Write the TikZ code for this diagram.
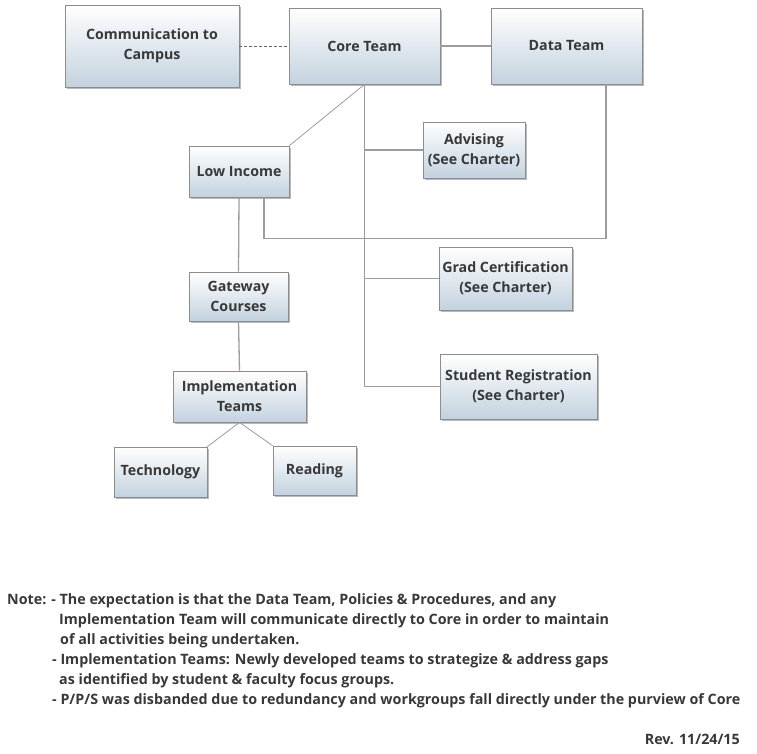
\documentclass[tikz,border=0pt]{standalone}
\usepackage{fontspec}
\setmainfont{Open Sans}
\usetikzlibrary{shadows}

\definecolor{boxline}{HTML}{8C8C8C}
\definecolor{boxbottom}{HTML}{C3D2DF}
\definecolor{linkgray}{HTML}{9C9C9C}
\definecolor{txtgray}{HTML}{383838}

\tikzset{
  box/.style={draw=boxline, line width=0.8pt, top color=white, bottom color=boxbottom,
    text=txtgray, font=\fontsize{14.2}{20}\selectfont\bfseries, align=center, inner sep=0pt,
    drop shadow={shadow xshift=2pt, shadow yshift=-2pt, opacity=0.45, fill=black!60}},
  link/.style={draw=linkgray, line width=1.3pt},
  thinlink/.style={draw=linkgray, line width=0.8pt},
  notetext/.style={anchor=base west, inner sep=0pt, text=txtgray,
    font=\fontsize{14.3}{20}\selectfont\bfseries}
}

\begin{document}
\begin{tikzpicture}[x=1pt, y=-1pt]
\useasboundingbox (0,0) rectangle (757,754);

% boxes
\node[box, minimum width=174pt, minimum height=82pt] (comm) at (152,46) {Communication to\\Campus};
\node[box, minimum width=151pt, minimum height=76pt] (core) at (364.5,46) {Core Team};
\node[box, minimum width=151pt, minimum height=76pt] (data) at (566.5,46) {Data Team};
\node[box, minimum width=100pt, minimum height=51pt] (lowinc) at (239,171.5) {Low Income};
\node[box, minimum width=102pt, minimum height=56pt] (advising) at (474,150) {Advising\\(See Charter)};
\node[box, minimum width=133pt, minimum height=63pt] (gradcert) at (505.5,278.5) {Grad Certification\\(See Charter)};
\node[box, minimum width=157pt, minimum height=65pt] (studreg) at (518.5,386.5) {Student Registration\\(See Charter)};
\node[box, minimum width=99pt, minimum height=49pt] (gateway) at (238.5,296.5) {Gateway\\Courses};
\node[box, minimum width=133pt, minimum height=51pt] (impl) at (239.5,396.5) {Implementation\\Teams};
\node[box, minimum width=93pt, minimum height=50pt] (tech) at (160.5,472) {Technology};
\node[box, minimum width=83pt, minimum height=49pt] (reading) at (314.5,470.5) {Reading};

% connectors
\draw[thinlink, draw=black!60, dash pattern=on 3pt off 2pt] (comm) -- (core);
\draw[link] (core) -- (data);
\draw[link] (core.south) -- (core.south |- studreg.west) -- (studreg.west);
\draw[link] (core.south |- advising.west) -- (advising.west);
\draw[link] (core.south |- gradcert.west) -- (gradcert.west);
\draw[thinlink] (lowinc.north east) -- (core.south);
\draw[link] ([xshift=25pt]lowinc.south) -- ++(0,41) -| ([xshift=39.5pt]data.south);
\draw[link] (lowinc.south) -- (gateway.north);
\draw[link] (gateway.south) -- (impl.north);
\draw[thinlink] (impl.south) -- (tech.north east);
\draw[thinlink] (impl.south) -- (reading.north west);

% notes
\foreach \x/\y/\txt [count=\i] in {
  7/604/{Note: - The expectation is that the Data Team, Policies \& Procedures, and any},
  59/624/{Implementation Team will communicate directly to Core in order to maintain},
  60/644/{of all activities being undertaken.},
  52/664/{- Implementation Teams: Newly developed teams to strategize \& address gaps},
  59/684/{as identified by student \& faculty focus groups.},
  52/704/{- P/P/S was disbanded due to redundancy and workgroups fall directly under the purview of Core}}
  {\node[notetext] (note\i) at (\x,\y) {\txt};}
\node[notetext, anchor=base east] (rev) at (740,744) {Rev. 11/24/15};

\end{tikzpicture}
\end{document}
